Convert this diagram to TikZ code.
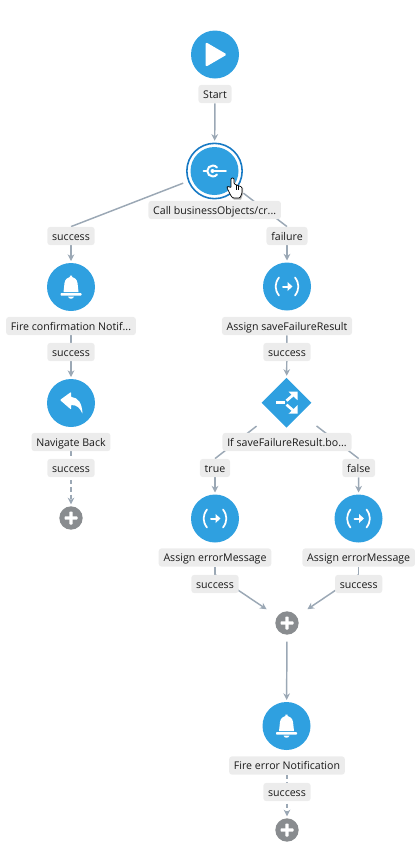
\documentclass[tikz,border=0pt]{standalone}
\usepackage{fontspec}
\setmainfont{Open Sans}
\usetikzlibrary{arrows.meta}
\usetikzlibrary{backgrounds}
\usetikzlibrary{shapes.geometric}
\definecolor{flowblue}{RGB}{47,160,224}
\definecolor{ringblue}{RGB}{24,122,196}
\definecolor{flowline}{RGB}{155,168,181}
\definecolor{labelgray}{RGB}{236,236,236}
\definecolor{plusgray}{RGB}{137,140,143}
\tikzset{
  action/.style={circle, fill=flowblue, minimum size=36pt, inner sep=0pt},
  switch/.style={diamond, fill=flowblue, minimum size=37.5pt, inner sep=0pt, aspect=1},
  addnode/.style={circle, fill=plusgray, minimum size=17.5pt, inner sep=0pt},
  tag/.style={fill=labelgray, rounded corners=2.2pt, inner xsep=3.6pt, inner ysep=0pt,
              minimum height=13.7pt, text height=8pt, text depth=1.6pt,
              font=\fontsize{7.95pt}{10pt}\selectfont, text=black!90},
  flow/.style={draw=flowline, line width=1.1pt, -{Stealth[length=5pt, width=5pt, inset=1.6pt]}, shorten >=1.3pt},
  plain/.style={draw=flowline, line width=1.1pt},
  dashflow/.style={flow, dash pattern=on 3.2pt off 2.2pt},
  icon/.style={draw=white, line cap=round, line join=round},
  pics/playicon/.style={code={
    \fill[white, rounded corners=1.2pt] (-9.5,-12.5) -- (-9.5,12.5) -- (12,0) -- cycle;}},
  pics/callicon/.style={code={
    \draw[icon, line width=1.5pt] (2.5,-3.5) .. controls (1.4,-4.8) and (0,-5.5) .. (-1.7,-5.5)
      .. controls (-4.7,-5.5) and (-7.2,-3) .. (-7.2,0)
      .. controls (-7.2,3) and (-4.7,5.5) .. (-1.7,5.5)
      .. controls (0,5.5) and (1.4,4.8) .. (2.5,3.5);
    \draw[icon, line width=1.4pt] (-11,0) -- (-8,0);
    \draw[icon, line width=1.4pt] (-2,0) -- (11.5,0);
    \fill[white] (-2,0) circle (1.5pt);}},
  pics/bellicon/.style={code={
    \fill[white] (-7.5,5) .. controls (-7,2) and (-7,-1) .. (-6.5,-4)
      .. controls (-6,-8) and (-3,-9.5) .. (-1.2,-10) -- (-1.2,-11.5) -- (1.2,-11.5) -- (1.2,-10)
      .. controls (3,-9.5) and (6,-8) .. (6.5,-4)
      .. controls (7,-1) and (7,2) .. (7.5,5) -- cycle;
    \fill[white, rounded corners=0.5pt] (-10.5,6.2) rectangle (10.5,8.6);
    \fill[white] (-3,9.6) .. controls (-2.5,12.4) and (2.5,12.4) .. (3,9.6) -- cycle;}},
  pics/backicon/.style={code={
    \fill[white, rounded corners=0.5pt] (-11,-3) -- (0,-11) -- (0,-6)
      .. controls (7,-5.5) and (11,0) .. (11.5,11)
      .. controls (9,5) and (6,2) .. (0,2) -- (0,6.5) -- cycle;}},
  pics/assignicon/.style={code={
    \draw[icon, line width=1.3pt] (-8,-9) .. controls (-12.5,-3) and (-12.5,3) .. (-8,9);
    \draw[icon, line width=1.3pt] (8,-9) .. controls (12.5,-3) and (12.5,3) .. (8,9);
    \draw[icon, line width=1.5pt] (-4,0) -- (2,0);
    \fill[white] (0.5,-4.5) -- (5.5,0) -- (0.5,4.5) -- cycle;}},
  pics/switchicon/.style={code={
    \fill[white] (-11,-1.4) rectangle (-1.5,0.8);
    \draw[icon, line width=2pt, line cap=butt] (0,-2) -- (7,-8);
    \draw[icon, line width=2pt, line cap=butt] (0,2) -- (7,8);
    \fill[white] (2,-11) -- (11,-11) -- (11,-2.5) -- cycle;
    \fill[white] (2,11) -- (11,11) -- (11,2.5) -- cycle;}},
  pics/plusicon/.style={code={
    \fill[white, rounded corners=0.5pt] (-6.5,-1.6) rectangle (6.5,1.6);
    \fill[white, rounded corners=0.5pt] (-1.6,-6.5) rectangle (1.6,6.5);}},
}
\begin{document}
\begin{tikzpicture}[x=0.75pt, y=-0.75pt]
  \useasboundingbox (0,0) rectangle (420,850);

  % Main column
  \node[action] (start) at (215,54.5) {};
  \node[tag] (startlbl) at (215,94) {Start};
  \node[circle, draw=ringblue, line width=1.2pt, minimum size=41.5pt, inner sep=0pt] (callring) at (214.5,171) {};
  \node[action] (call) at (214.5,171) {};
  \node[tag] (calllbl) at (214.7,210) {Call businessObjects/cr...};

  % Left branch
  \node[tag] (okcall) at (71,236) {success};
  \node[action] (notif) at (71,287) {};
  \node[tag] (notiflbl) at (71,326) {Fire confirmation Notif...};
  \node[tag] (oknotif) at (71,352) {success};
  \node[action] (back) at (71,403) {};
  \node[tag] (backlbl) at (71,442) {Navigate Back};
  \node[tag] (okback) at (71,468) {success};
  \node[addnode] (addleft) at (71,518) {};

  % Right branch
  \node[tag] (failcall) at (287,236) {failure};
  \node[action] (assign) at (287,286.5) {};
  \node[tag] (assignlbl) at (287,326) {Assign saveFailureResult};
  \node[tag] (okassign) at (287,352) {success};
  \node[switch] (test) at (286.5,402.7) {};
  \node[tag] (testlbl) at (287,442) {If saveFailureResult.bo...};
  \node[tag] (truelbl) at (215,468) {true};
  \node[tag] (falselbl) at (358.7,468) {false};
  \node[action] (errleft) at (215,518.5) {};
  \node[action] (errright) at (358.5,518.5) {};
  \node[tag] (errleftlbl) at (215,557.5) {Assign errorMessage};
  \node[tag] (errrightlbl) at (358.7,557.5) {Assign errorMessage};
  \node[tag] (okleft) at (215,584) {success};
  \node[tag] (okright) at (358.7,584) {success};
  \node[addnode] (addmid) at (287,623) {};
  \node[action] (fire) at (286.5,726) {};
  \node[tag] (firelbl) at (287,765.5) {Fire error Notification};
  \node[tag] (okfire) at (287,792) {success};
  \node[addnode] (addend) at (287,830) {};

  % Draw the icons
  \pic at (start) {playicon};
  \pic at (call) {callicon};
  \pic at (notif) {bellicon};
  \pic at (back) {backicon};
  \pic at (assign) {assignicon};
  \pic at (test) {switchicon};
  \pic at (errleft) {assignicon};
  \pic at (errright) {assignicon};
  \pic at (fire) {bellicon};
  \pic at (addleft) {plusicon};
  \pic at (addmid) {plusicon};
  \pic at (addend) {plusicon};

  % Draw the edges
  \begin{scope}[on background layer]
    \draw[flow] (startlbl) -- (callring);
    \draw[plain, shorten <=3.8pt] (callring) -- (okcall.north);
    \draw[plain, shorten <=6pt] (callring) -- (failcall.north);
    \draw[flow] (okcall) -- (notif);
    \draw[flow] (notiflbl) -- (back);
    \draw[dashflow] (backlbl) -- (addleft);
    \draw[flow] (failcall) -- (assign);
    \draw[flow] (assignlbl) -- (test);
    \draw[plain, shorten <=15pt] (test) -- (truelbl.north);
    \draw[plain, shorten <=15pt] (test) -- (falselbl.north);
    \draw[flow] (truelbl) -- (errleft);
    \draw[flow] (falselbl) -- (errright);
    \draw[plain] (errleftlbl) -- (okleft);
    \draw[plain] (errrightlbl) -- (okright);
    \draw[flow, shorten >=9.5pt] (okleft.north) -- (addmid);
    \draw[flow, shorten >=9.5pt] (okright.north) -- (addmid);
    \draw[flow, shorten <=5pt] (addmid) -- (fire);
    \draw[dashflow] (firelbl) -- (addend);
  \end{scope}

  % Hand cursor
  \fill[black!30] (232,179.5) -- (232,189) -- (229.5,187.5) -- (228,188.5) -- (232,198) -- (234,199.5) -- (241,199.5) -- (243,194) -- (243,188) -- (235,185) -- (235,179.5) -- cycle;
  \draw[black, fill=white, line width=0.5pt, rounded corners=0.8pt] (231,178) -- (231,188) -- (228.5,186.2) -- (226.7,187.3) -- (231,196) -- (233,198) -- (240,198) -- (242,193) -- (242,187) -- (234,184) -- (234,178) -- cycle;
  \draw[black, line width=0.4pt] (236,185) -- (236,190);
  \draw[black, line width=0.4pt] (238.7,186) -- (238.7,190);
\end{tikzpicture}
\end{document}
